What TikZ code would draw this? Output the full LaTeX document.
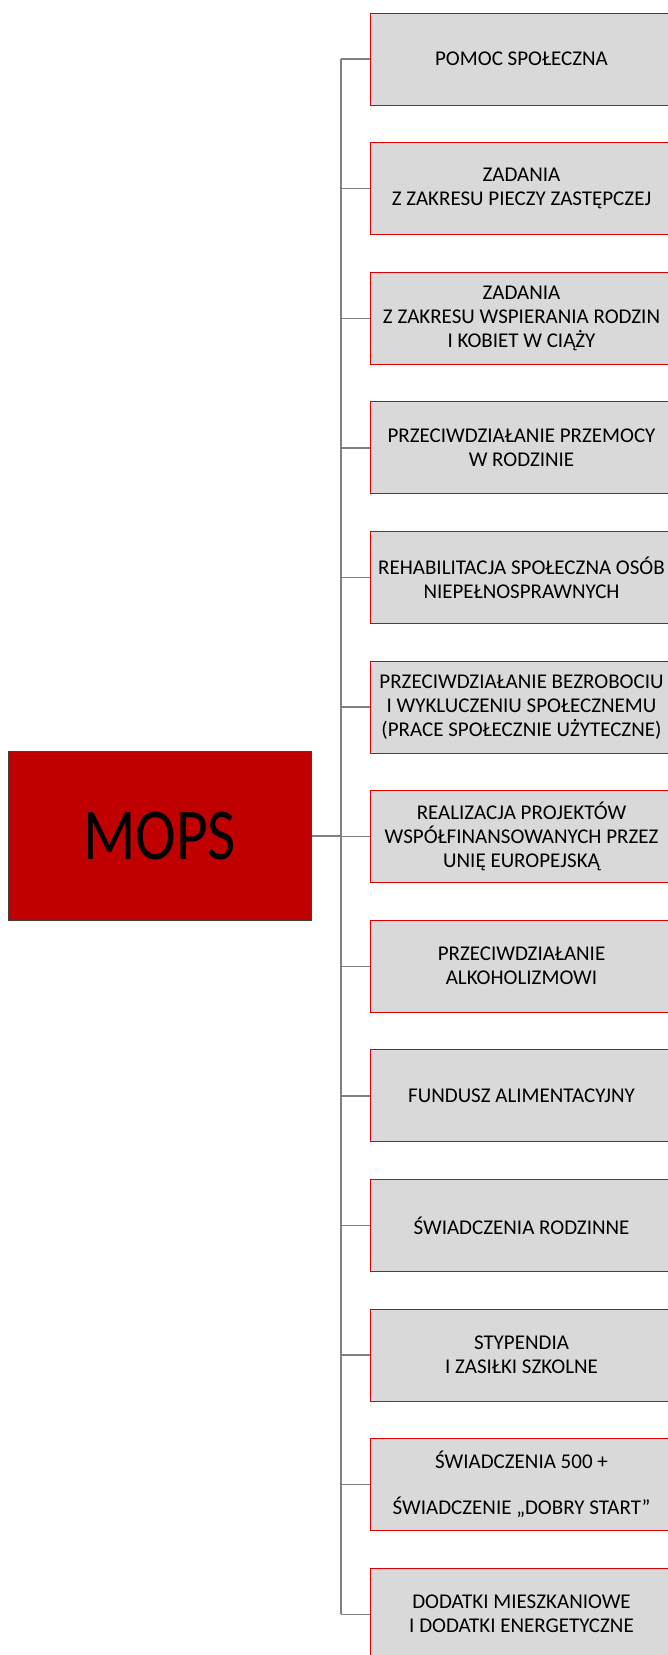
\documentclass[tikz,border=0pt]{standalone}
\usepackage{fontspec}
\setmainfont{Carlito}
\usetikzlibrary{calc,positioning}

\definecolor{mopsred}{HTML}{C00000}
\definecolor{boxred}{HTML}{E00000}
\definecolor{wiregray}{HTML}{808080}

\begin{document}
\begin{tikzpicture}
  [x=1pt,y=-1pt]

\useasboundingbox (0,0) rectangle (667,1655);

% important vars
\edef\gap{129.6}

% define styles
\tikzstyle{task} = [draw=boxred, fill=gray!30, line width=1pt, minimum width=302pt, minimum height=92pt, inner sep=0pt, align=center, anchor=west, font=\fontsize{21}{24}\selectfont];
\tikzstyle{head} = [draw=black!75, fill=mopsred, line width=1pt, minimum width=303pt, minimum height=169pt, inner sep=0pt];
\tikzstyle{wire} = [draw=wiregray, line width=1.4pt];

% define new commands
\newcommand{\conBranch}[1]{
  \draw [wire] (trunk |- #1.west) -- (#1.west);
}

% draw nodes
\node[head] (mops) at (159.5,836) {\scalebox{0.84}[1]{\fontsize{73}{80}\selectfont MOPS}};

\foreach \i/\txt in {
  1/{POMOC SPOŁECZNA},
  2/{ZADANIA\\Z ZAKRESU PIECZY ZASTĘPCZEJ},
  3/{ZADANIA\\Z ZAKRESU WSPIERANIA RODZIN\\I KOBIET W CIĄŻY},
  4/{PRZECIWDZIAŁANIE PRZEMOCY\\W RODZINIE},
  5/{REHABILITACJA SPOŁECZNA OSÓB\\NIEPEŁNOSPRAWNYCH},
  6/{PRZECIWDZIAŁANIE BEZROBOCIU\\I WYKLUCZENIU SPOŁECZNEMU\\(PRACE SPOŁECZNIE UŻYTECZNE)},
  7/{REALIZACJA PROJEKTÓW\\WSPÓŁFINANSOWANYCH PRZEZ\\UNIĘ EUROPEJSKĄ},
  8/{PRZECIWDZIAŁANIE\\ALKOHOLIZMOWI},
  9/{FUNDUSZ ALIMENTACYJNY},
  10/{ŚWIADCZENIA RODZINNE},
  11/{STYPENDIA\\I ZASIŁKI SZKOLNE},
  12/{ŚWIADCZENIA 500 +\\[22pt]ŚWIADCZENIE „DOBRY START”},
  13/{DODATKI MIESZKANIOWE\\I DODATKI ENERGETYCZNE}}
  \node[task] (t\i) at (370, {59+\gap*(\i-1)}) {\txt};

% draw trunk and edges
\coordinate (trunk) at (341,0);
\draw [wire] (trunk |- t1.west) -- (trunk |- t13.west);
\draw [wire] (mops.east) -- (trunk |- mops.east);

\foreach \i in {1,...,13}{
  \conBranch{t\i}
}

\end{tikzpicture}
\end{document}
